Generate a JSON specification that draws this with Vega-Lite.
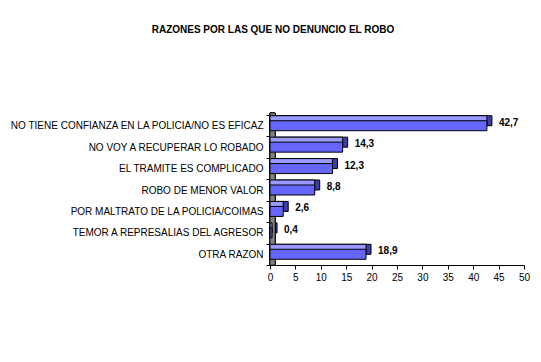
{
  "$schema": "https://vega.github.io/schema/vega-lite/v6.json",
  "width": 254,
  "height": 150,
  "autosize": {"type": "none"},
  "padding": {"left": 270, "top": 115, "right": 17, "bottom": 97},
  "background": "white",
  "title": {
    "text": "RAZONES POR LAS QUE NO DENUNCIO EL ROBO",
    "font": "Liberation Sans",
    "fontSize": 10,
    "fontWeight": "bold",
    "color": "black",
    "anchor": "middle",
    "frame": "group",
    "dx": -124,
    "baseline": "alphabetic",
    "offset": 67
  },
  "config": {
    "view": {"stroke": null},
    "locale": {"number": {"decimal": ",", "thousands": ".", "grouping": [3], "currency": ["", ""]}},
    "axis": {
      "labelFont": "Liberation Sans",
      "labelFontSize": 10,
      "labelColor": "black",
      "domainColor": "black",
      "tickColor": "black",
      "tickSize": 4,
      "grid": false,
      "title": null,
      "labelOverlap": false
    }
  },
  "data": {
    "values": [
      {"razon": "NO TIENE CONFIANZA EN LA POLICIA/NO ES EFICAZ", "pct": 42.7},
      {"razon": "NO VOY A RECUPERAR LO ROBADO", "pct": 14.3},
      {"razon": "EL TRAMITE ES COMPLICADO", "pct": 12.3},
      {"razon": "ROBO DE MENOR VALOR", "pct": 8.8},
      {"razon": "POR MALTRATO DE LA POLICIA/COIMAS", "pct": 2.6},
      {"razon": "TEMOR A REPRESALIAS DEL AGRESOR", "pct": 0.4},
      {"razon": "OTRA RAZON", "pct": 18.9}
    ]
  },
  "encoding": {
    "y": {
      "field": "razon",
      "type": "nominal",
      "sort": null,
      "scale": {"paddingInner": 0, "paddingOuter": 0},
      "axis": {"tickBand": "extent", "labelPadding": 3, "labelLimit": 300}
    },
    "x": {
      "field": "pct",
      "type": "quantitative",
      "scale": {"domain": [0, 50], "nice": false},
      "axis": {
        "values": [0, 5, 10, 15, 20, 25, 30, 35, 40, 45, 50],
        "format": "d",
        "labelOverlap": false,
        "labelFlush": false,
        "labelPadding": 3
      }
    }
  },
  "layer": [
    {
      "mark": {"type": "bar", "size": 10, "color": "#3D3DA8", "stroke": "black", "strokeWidth": 1, "xOffset": 5, "yOffset": -5}
    },
    {
      "mark": {"type": "rect", "color": "#808080", "stroke": "black", "strokeWidth": 0.6, "yOffset": -2},
      "encoding": {
        "x": {"datum": 0, "type": "quantitative"},
        "x2": {"datum": 1},
        "y": null
      }
    },
    {
      "mark": {"type": "bar", "size": 10, "color": "#9999FF", "stroke": "black", "strokeWidth": 1, "yOffset": -5}
    },
    {
      "mark": {"type": "bar", "size": 10, "color": "#6666FF", "stroke": "black", "strokeWidth": 1}
    },
    {
      "mark": {"type": "text", "align": "left", "baseline": "middle", "dx": 12, "dy": -3, "font": "Liberation Sans", "fontSize": 10, "fontWeight": "bold", "color": "black"},
      "encoding": {
        "text": {"field": "pct", "type": "quantitative", "format": ".1f"}
      }
    }
  ]
}
